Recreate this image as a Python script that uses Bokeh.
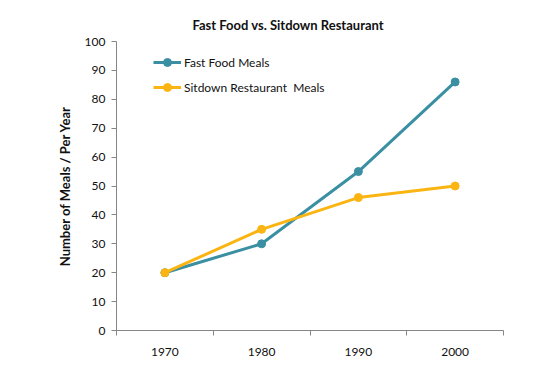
from bokeh.plotting import figure
from bokeh.models import FixedTicker, Legend, LegendItem, Range1d
from bokeh.embed import file_html
from bokeh.resources import INLINE

years = ["1970", "1980", "1990", "2000"]
fast_food = [20, 30, 55, 86]
sitdown = [20, 35, 46, 50]
y_ticks = list(range(0, 101, 10))

FONT = "Lato"
TEAL = "#3A8FA2"
GOLD = "#FBB513"
TXT = "#111111"

xs = [i + 0.5 for i in range(len(years))]

p = figure(width=536, height=364, output_backend="svg", toolbar_location=None,
           x_range=Range1d(0, len(years)), y_range=Range1d(0, 100),
           min_border_left=116, min_border_right=33, min_border_top=41, min_border_bottom=34)
p.outline_line_color = None
p.grid.visible = False
p.background_fill_color = "white"

p.title.text = "Fast Food vs. Sitdown Restaurant"
p.title.align = "left"
p.title.offset = 76
p.title.standoff = 18
p.title.text_font = FONT
p.title.text_font_size = "13px"
p.title.text_font_style = "bold"
p.title.text_color = TXT

r1 = p.line(xs, fast_food, line_color=TEAL, line_width=3)
c1 = p.scatter(xs, fast_food, size=8, fill_color=TEAL, line_color=TEAL)
r2 = p.line(xs, sitdown, line_color=GOLD, line_width=3)
c2 = p.scatter(xs, sitdown, size=8, fill_color=GOLD, line_color=GOLD)

xa = p.xaxis[0]
xa.ticker = FixedTicker(ticks=xs, minor_ticks=list(range(len(years) + 1)))
xa.major_label_overrides = {x: y for x, y in zip(xs, years)}
xa.major_tick_out = 0
xa.major_tick_in = 0
xa.minor_tick_out = 5
xa.minor_tick_in = 0
xa.minor_tick_line_color = "#868686"
xa.axis_line_color = "#868686"
xa.major_label_standoff = 12
xa.major_label_text_font = FONT
xa.major_label_text_font_size = "12px"
xa.major_label_text_color = TXT

ya = p.yaxis[0]
ya.ticker = FixedTicker(ticks=y_ticks)
ya.minor_tick_line_color = None
ya.major_tick_out = 5
ya.major_tick_in = 0
ya.major_tick_line_color = "#868686"
ya.axis_line_color = "#868686"
ya.major_label_standoff = 6
ya.major_label_text_font = FONT
ya.major_label_text_font_size = "12px"
ya.major_label_text_color = TXT
ya.axis_label = "Number of Meals / Per Year"
ya.axis_label_text_font = FONT
ya.axis_label_text_font_size = "13px"
ya.axis_label_text_font_style = "bold"
ya.axis_label_text_color = TXT
ya.axis_label_standoff = 9

legend = Legend(items=[
    LegendItem(label="Fast Food Meals", renderers=[r1, c1]),
    LegendItem(label="Sitdown Restaurant  Meals", renderers=[r2, c2]),
], location=(37, 233))
legend.margin = 0
legend.padding = 10
legend.border_line_color = None
legend.background_fill_alpha = 0
legend.label_text_font = FONT
legend.label_text_font_size = "12px"
legend.label_text_color = TXT
legend.glyph_width = 28
legend.glyph_height = 20
legend.label_height = 20
legend.label_standoff = 3
legend.spacing = 5
p.add_layout(legend)

open("out.html", "w").write(file_html(p, INLINE))
